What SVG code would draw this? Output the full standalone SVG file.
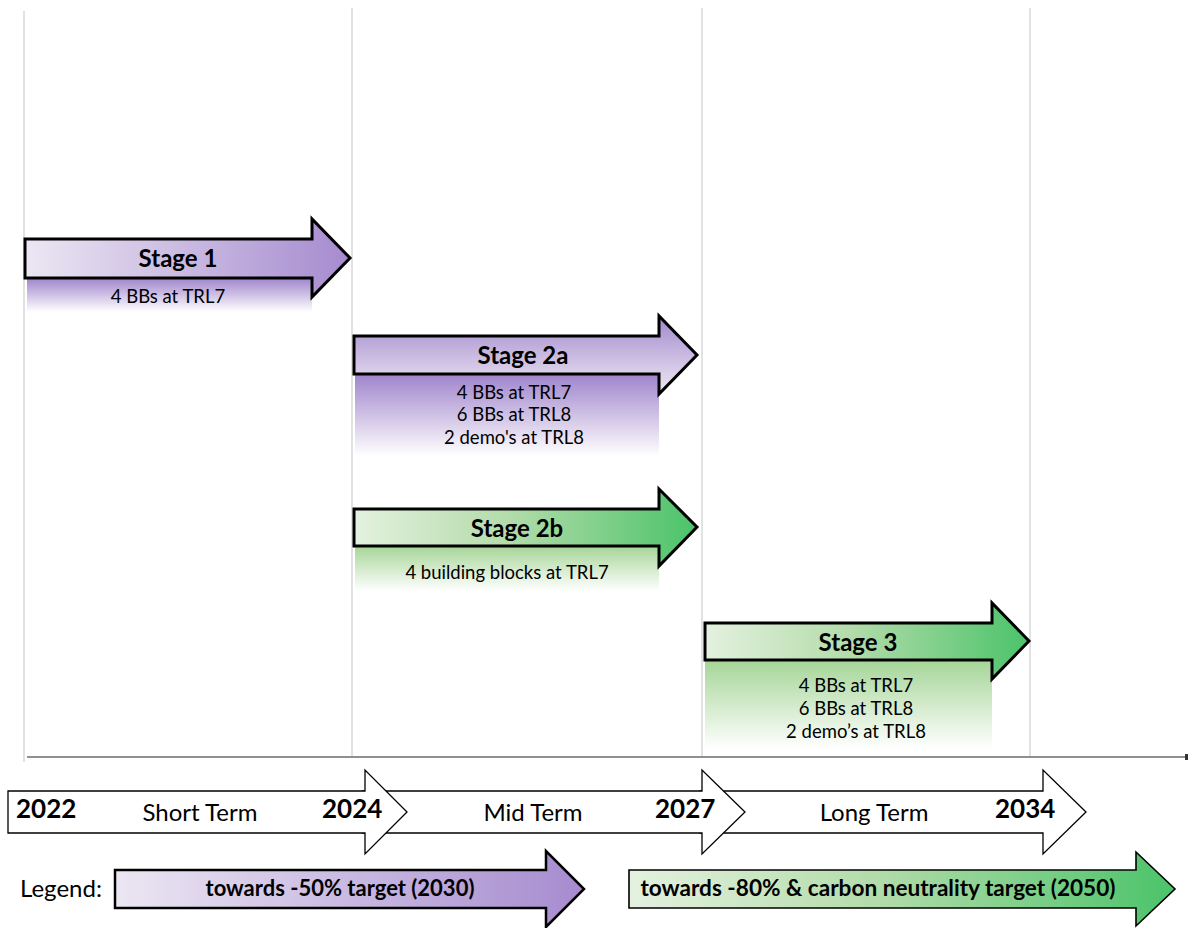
<svg xmlns="http://www.w3.org/2000/svg" width="1188" height="928" viewBox="0 0 1188 928">
<defs>
<linearGradient id="purpleH" x1="0" y1="0" x2="1" y2="0">
<stop offset="0" stop-color="#ece7f3"/><stop offset="1" stop-color="#a68bcf"/>
</linearGradient>
<linearGradient id="purpleV" x1="0" y1="0" x2="0" y2="1">
<stop offset="0" stop-color="#a088cc"/><stop offset="0.3" stop-color="#b9a6d9"/><stop offset="0.75" stop-color="#dcd2ea"/><stop offset="1" stop-color="#ebe5f3"/>
</linearGradient>
<linearGradient id="greenH" x1="0" y1="0" x2="1" y2="0">
<stop offset="0" stop-color="#e4f1df"/><stop offset="0.45" stop-color="#b3dcaa"/><stop offset="1" stop-color="#4bc36a"/>
</linearGradient>
<linearGradient id="purpleFade" x1="0" y1="0" x2="0" y2="1">
<stop offset="0" stop-color="#9f84cb"/><stop offset="1" stop-color="#ffffff"/>
</linearGradient>
<linearGradient id="greenFade" x1="0" y1="0" x2="0" y2="1">
<stop offset="0" stop-color="#a5d597"/><stop offset="1" stop-color="#ffffff"/>
</linearGradient>
</defs>
<style>
.grid{stroke:#d3d3d3;stroke-width:1.3;fill:none}
.axis{stroke:#6b6b6b;stroke-width:1.6;fill:none}
.stage{stroke:#000;stroke-width:3;stroke-linejoin:miter}
.tl{fill:#fff;stroke:#000;stroke-width:1.3;stroke-linejoin:miter}
.leg{stroke:#000;stroke-width:2.5;stroke-linejoin:miter}
text{font-family:Lato,"Liberation Sans",sans-serif;fill:#000}
.h{font-weight:bold;font-size:24px;text-anchor:middle}
.d{font-size:18.5px;text-anchor:middle}
.yr{font-weight:bold;font-size:26px}
.term{font-size:24px;text-anchor:middle}
.lt{font-weight:bold;font-size:22px;text-anchor:middle}
</style>
<rect width="1188" height="928" fill="#fff"/>
<g id="grid">
<line class="grid" x1="24" y1="11" x2="24" y2="762"/>
<line class="grid" x1="352" y1="8" x2="352" y2="757"/>
<line class="grid" x1="702" y1="8" x2="702" y2="757"/>
<line class="grid" x1="1030" y1="8" x2="1030" y2="757"/>
<line class="axis" x1="27" y1="757" x2="1188" y2="757"/>
<rect x="1185" y="754" width="3" height="6" fill="#333"/>
</g>
<g id="stage1">
<rect x="27" y="278" width="285" height="34" fill="url(#purpleFade)"/>
<path class="stage" fill="url(#purpleH)" d="M25,239 L312,239 L312,219 L350,258 L312,297 L312,278 L25,278 Z"/>
<text class="h" x="178" y="267">Stage 1</text>
<text class="d" x="168" y="303">4 BBs at TRL7</text>
</g>
<g id="stage2a">
<rect x="355" y="374" width="304" height="82" fill="url(#purpleFade)"/>
<path class="stage" fill="url(#purpleV)" d="M354,336 L659,336 L659,316 L697,355 L659,394 L659,374 L354,374 Z"/>
<text class="h" x="523" y="364">Stage 2a</text>
<text class="d" x="514" y="399">4 BBs at TRL7</text>
<text class="d" x="514" y="421">6 BBs at TRL8</text>
<text class="d" x="514" y="444">2 demo's at TRL8</text>
</g>
<g id="stage2b">
<rect x="355" y="546" width="304" height="45" fill="url(#greenFade)"/>
<path class="stage" fill="url(#greenH)" d="M354,509 L659,509 L659,489 L697,527 L659,566 L659,546 L354,546 Z"/>
<text class="h" x="517" y="537">Stage 2b</text>
<text class="d" x="507" y="579">4 building blocks at TRL7</text>
</g>
<g id="stage3">
<rect x="705" y="660" width="287" height="89" fill="url(#greenFade)"/>
<path class="stage" fill="url(#greenH)" d="M705,623 L992,623 L992,603 L1029,641 L992,679 L992,660 L705,660 Z"/>
<text class="h" x="858" y="651">Stage 3</text>
<text class="d" x="856" y="692">4 BBs at TRL7</text>
<text class="d" x="856" y="715">6 BBs at TRL8</text>
<text class="d" x="856" y="738">2 demo’s at TRL8</text>
</g>
<g id="timeline">
<path class="tl" d="M700,791 L1043,791 L1043,770 L1086,812 L1043,854 L1043,833 L700,833 Z"/>
<path class="tl" d="M363,791 L702,791 L702,770 L745,812 L702,854 L702,833 L363,833 Z"/>
<path class="tl" d="M8,791 L365,791 L365,770 L407,812 L365,854 L365,833 L8,833 Z"/>
<text class="yr" x="16" y="818">2022</text>
<text class="term" x="200" y="821">Short Term</text>
<text class="yr" x="322" y="818">2024</text>
<text class="term" x="533" y="821">Mid Term</text>
<text class="yr" x="655" y="818">2027</text>
<text class="term" x="874" y="821">Long Term</text>
<text class="yr" x="995" y="818">2034</text>
</g>
<g id="legend">
<text x="20" y="897" style="font-size:24px">Legend:</text>
<path class="leg" fill="url(#purpleH)" d="M115,870 L546,870 L546,851 L584,889 L546,927 L546,908 L115,908 Z"/>
<text class="lt" x="340" y="896">towards -50% target (2030)</text>
<path class="leg" style="stroke-width:1.6" fill="url(#greenH)" d="M629,870 L1136,870 L1136,852 L1175,889 L1136,926 L1136,908 L629,908 Z"/>
<text class="lt" x="878" y="896" style="font-size:22.6px">towards -80% &amp; carbon neutrality target (2050)</text>
</g>
</svg>
